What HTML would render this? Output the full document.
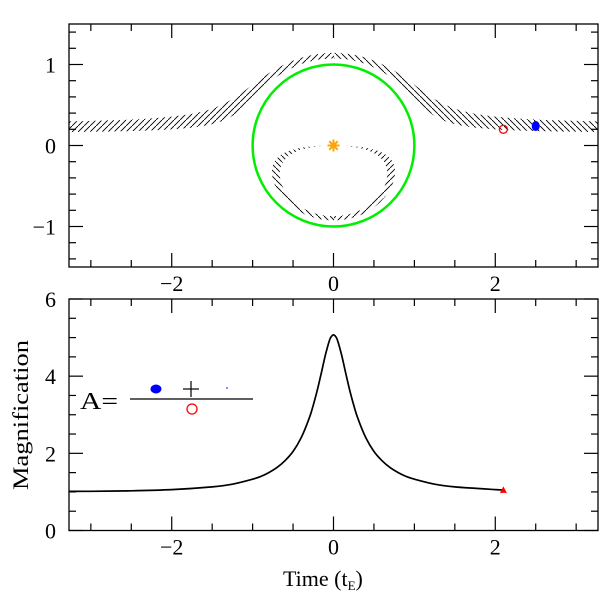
<!DOCTYPE html>
<html><head><meta charset="utf-8"><style>
html,body{margin:0;padding:0;background:#fff}
svg text{font-family:"Liberation Serif",serif;fill:#000}
</style></head><body>
<svg id="c" width="600" height="600" xmlns="http://www.w3.org/2000/svg">
<defs>
<pattern id="hf" width="6" height="6" patternUnits="userSpaceOnUse"><path d="M0,6 L6,0" stroke="#000" stroke-width="0.9"/></pattern>
<pattern id="hb" width="6" height="6" patternUnits="userSpaceOnUse"><path d="M0,0 L6,6" stroke="#000" stroke-width="0.9"/></pattern>
<clipPath id="clipTop"><rect x="69" y="24" width="529" height="243"/></clipPath>
<clipPath id="leftHalf"><rect x="0" y="0" width="334" height="600"/></clipPath>
<clipPath id="rightHalf"><rect x="334" y="0" width="266" height="600"/></clipPath>
</defs>
<g id="topPanel"></g>
<g id="botPanel"></g>
</svg>
<script>
// Light curve data (time in t_E, magnification)
const lcTimes = [-3.27,-3.0,-2.5,-2.0,-1.5,-1.25,-1.0,-0.9,-0.8,-0.7,-0.6,-0.5,-0.4,-0.3,-0.25,-0.2,-0.15,-0.1,-0.05,-0.025,0,0.025,0.05,0.1,0.15,0.2,0.25,0.3,0.4,0.5,0.6,0.7,0.8,0.9,1.0,1.25,1.5,2.0,2.1];
const lcMag   = [1.013,1.017,1.03,1.06,1.13,1.20,1.33,1.40,1.50,1.63,1.81,2.05,2.40,2.91,3.25,3.64,4.09,4.55,4.93,5.03,5.07,5.03,4.93,4.55,4.09,3.64,3.25,2.91,2.40,2.05,1.81,1.63,1.50,1.40,1.33,1.20,1.13,1.06,1.052];
// Source trajectory strip (impact parameters of strip edges) and markers
const stripB = [0.15, 0.27];
const sourceNow = [2.1, 0.2];
const sourceBlue = [2.5, 0.24];
const xTicks = [-2,0,2];
const yTicksTop = [-1,0,1];
const yTicksBot = [0,2,4,6];

const NS="http://www.w3.org/2000/svg";
const svgRoot=document.getElementById('c');
function mk(tag,attrs,parent){const e=document.createElementNS(NS,tag);for(const k in attrs)e.setAttribute(k,attrs[k]);(parent||svgRoot).appendChild(e);return e;}
const L=69,R=598;
const X=t=>L+(t+3.27)/(6.54)*(R-L);
const TT=24,TB=267; const YT=v=>TT+(1.5-v)/3*(TB-TT);
const BT=299,BB=530.5; const YB=v=>BB-v/6*(BB-BT);
const gTopPanel=document.getElementById('topPanel'), gBotPanel=document.getElementById('botPanel');

function imgs(sx,b,sign){const u=Math.hypot(sx,b);const f=(1+sign*Math.sqrt(1+4/(u*u)))/2;return [sx*f,b*f];}
function bandPath(sign){
  const pts=[];const N=400;
  for(let i=0;i<=N;i++){const sx=-6+12*i/N;pts.push(imgs(sx,stripB[0],sign));}
  for(let i=N;i>=0;i--){const sx=-6+12*i/N;pts.push(imgs(sx,stripB[1],sign));}
  return 'M'+pts.map(p=>X(p[0]).toFixed(1)+','+YT(p[1]).toFixed(1)).join('L')+'Z';
}
const gImg=mk('g',{'clip-path':'url(#clipTop)'},gTopPanel);


[[1,'hf','hb','major-image'],[-1,'hb','hf','minor-image']].forEach(([s,pl,pr,nm])=>{
  const d=bandPath(s);
  const gl=mk('g',{'clip-path':'url(#leftHalf)'},gImg);
  const p1=mk('path',{d:d,fill:'url(#'+pl+')',stroke:'none'},gl);
  
  
  const gr=mk('g',{'clip-path':'url(#rightHalf)'},gImg);
  const p2=mk('path',{d:d,fill:'url(#'+pr+')',stroke:'none'},gr);
  
  
});
const ring=mk('ellipse',{cx:X(0),cy:YT(0),rx:X(1)-X(0),ry:YT(0)-YT(1),fill:'none',stroke:'#00ee00','stroke-width':2.5},gTopPanel);


const star=mk('g',{},gTopPanel);


for(let k=0;k<4;k++){const a=k*Math.PI/4;mk('line',{x1:X(0)-6*Math.cos(a),y1:YT(0)-6*Math.sin(a),x2:X(0)+6*Math.cos(a),y2:YT(0)+6*Math.sin(a),stroke:'#ffa500','stroke-width':2},star);}
mk('circle',{cx:X(0),cy:YT(0),r:3,fill:'#ffa500'},star);
const rc=mk('circle',{cx:X(sourceNow[0]),cy:YT(sourceNow[1]),r:4,fill:'none',stroke:'#ff0000','stroke-width':1.3},gTopPanel);


const bd=mk('ellipse',{cx:X(sourceBlue[0]),cy:YT(sourceBlue[1]),rx:4,ry:5,fill:'#0000ff'},gTopPanel);



function frame(g,yT,yB,Yf,ymin,ymax,minorY,majorY,yLabels,name){
  const f=mk('rect',{x:L,y:yT,width:R-L,height:yB-yT,fill:'none',stroke:'#000','stroke-width':1.3},g);
  
  
  for(let t=-3;t<=3.001;t+=0.5){const maj=Math.abs(t-Math.round(t/2)*2)<1e-6;const len=maj?14:7;const x=X(t);
    mk('line',{x1:x,y1:yB,x2:x,y2:yB-len,stroke:'#000','stroke-width':1.2},g);
    mk('line',{x1:x,y1:yT,x2:x,y2:yT+len,stroke:'#000','stroke-width':1.2},g);}
  for(let v=Math.ceil(ymin/minorY-1e-9)*minorY;v<=ymax+1e-6;v+=minorY){const maj=Math.abs(v/majorY-Math.round(v/majorY))<1e-6;const len=maj?14:7;const y=Yf(v);
    mk('line',{x1:L,y1:y,x2:L+len,y2:y,stroke:'#000','stroke-width':1.2},g);
    mk('line',{x1:R,y1:y,x2:R-len,y2:y,stroke:'#000','stroke-width':1.2},g);}
  xTicks.forEach(t=>{const tx=mk('text',{x:X(t),y:yB+24,'font-size':22,'text-anchor':'middle'},g);tx.textContent=t<0?'\u2212'+(-t):String(t);
    
    });
  yLabels.forEach(v=>{const tx=mk('text',{x:L-13,y:Yf(v)+8,'font-size':22,'text-anchor':'end'},g);tx.textContent=v<0?'\u2212'+(-v):String(v);
    
    });
}
frame(gTopPanel,TT,TB,YT,-1.5,1.5,0.2,1,yTicksTop,'top');
frame(gBotPanel,BT,BB,YB,0,6,0.5,2,yTicksBot,'bottom');

const P=lcTimes.map((t,i)=>[X(t),YB(lcMag[i])]);
let d='M'+P[0][0].toFixed(1)+','+P[0][1].toFixed(1);
for(let i=0;i<P.length-1;i++){const p0=P[Math.max(0,i-1)],p1=P[i],p2=P[i+1],p3=P[Math.min(P.length-1,i+2)];
  const c1=[p1[0]+(p2[0]-p0[0])/6,p1[1]+(p2[1]-p0[1])/6],c2=[p2[0]-(p3[0]-p1[0])/6,p2[1]-(p3[1]-p1[1])/6];
  d+=`C${c1[0].toFixed(1)},${c1[1].toFixed(1)} ${c2[0].toFixed(1)},${c2[1].toFixed(1)} ${p2[0].toFixed(1)},${p2[1].toFixed(1)}`;}
const lc=mk('path',{d:d,fill:'none',stroke:'#000','stroke-width':1.7,'stroke-linejoin':'round'},gBotPanel);


const n=lcTimes.length-1;
const tri=mk('path',{d:`M${X(lcTimes[n])-3.5},${YB(lcMag[n])+3} L${X(lcTimes[n])+3.5},${YB(lcMag[n])+3} L${X(lcTimes[n])},${YB(lcMag[n])-3.5}Z`,fill:'#ff0000'},gBotPanel);



const lg=mk('g',{},gBotPanel);


const at=mk('text',{x:80,y:409,'font-size':24,textLength:38,lengthAdjust:'spacingAndGlyphs'},lg);at.textContent='A=';
mk('line',{x1:130,y1:399,x2:253,y2:399,stroke:'#000','stroke-width':1.2},lg);
mk('ellipse',{cx:156,cy:389,rx:5.5,ry:4.5,fill:'#0000ff'},lg);
mk('line',{x1:183,y1:389,x2:199,y2:389,stroke:'#000','stroke-width':1.2},lg);
mk('line',{x1:191,y1:381,x2:191,y2:397,stroke:'#000','stroke-width':1.2},lg);
mk('circle',{cx:227,cy:388,r:0.8,fill:'#0000ff'},lg);
mk('circle',{cx:192,cy:409,r:5,fill:'none',stroke:'#ff0000','stroke-width':1.3},lg);

const yl=mk('text',{x:0,y:0,'font-size':22,'text-anchor':'middle',textLength:150,lengthAdjust:'spacingAndGlyphs',transform:'translate(28,415) rotate(-90)'},gBotPanel);
yl.textContent='Magnification';


const xl=mk('text',{x:283,y:586,'font-size':22},gBotPanel);
xl.innerHTML='Time (t<tspan font-size="13" dy="4">E</tspan><tspan dy="-4">)</tspan>';


</script>
</body></html>
